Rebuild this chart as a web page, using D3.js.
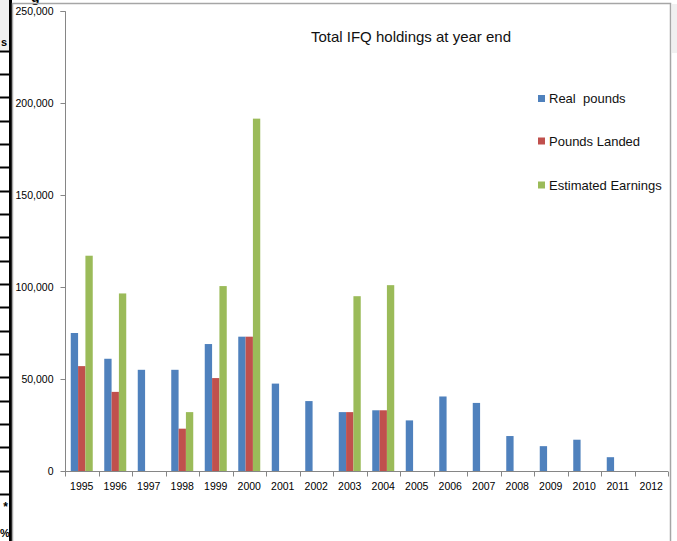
<!DOCTYPE html>
<html>
<head>
<meta charset="utf-8">
<script src="https://cdn.jsdelivr.net/npm/d3@7"></script>
<style>
html,body{margin:0;padding:0;background:#fff;}
svg{display:block;}
</style>
</head>
<body>
<svg id="chart" width="677" height="541"></svg>
<script>
const years = ["1995","1996","1997","1998","1999","2000","2001","2002","2003","2004","2005","2006","2007","2008","2009","2010","2011","2012"];
const seriesNames = ["Real  pounds","Pounds Landed","Estimated Earnings"];
const seriesColors = ["#4F81BD","#C0504D","#9BBB59"];
const realPounds = [75000,61000,55000,55000,69000,73000,47500,38000,32000,33000,27500,40500,37000,19000,13500,17000,7500,null];
const poundsLanded = [57000,43000,null,23000,50500,73000,null,null,32000,33000,null,null,null,null,null,null,null,null];
const estimatedEarnings = [117000,96500,null,32000,100500,191500,null,null,95000,101000,null,null,null,null,null,null,null,null];
const yTicks = [0,50000,100000,150000,200000,250000];
const chartTitle = "Total IFQ holdings at year end";

const allSeries = [realPounds, poundsLanded, estimatedEarnings];
const svg = d3.select("#chart");

// --- spreadsheet artifacts around the chart ---
svg.append("rect").attr("x",0).attr("y",0).attr("width",10).attr("height",50).attr("fill","#f0f0f0");
svg.append("rect").attr("x",672).attr("y",4).attr("width",5).attr("height",49).attr("fill","#f0f0f0");
d3.range(0,20).forEach(k=>{
  const yy = Math.round(50.7 + k*23.33)+0.5;
  svg.append("line").attr("x1",0).attr("x2",10).attr("y1",yy).attr("y2",yy).attr("stroke","#000").attr("stroke-width",2);
});
svg.append("line").attr("x1",10.5).attr("x2",10.5).attr("y1",0).attr("y2",541).attr("stroke","#000").attr("stroke-width",3);
svg.append("text").attr("x",7).attr("y",46).attr("text-anchor","end").attr("font-family","Liberation Sans, Arial").attr("font-weight","bold").attr("font-size",11).text("s");
svg.append("text").attr("x",8).attr("y",511).attr("text-anchor","end").attr("font-family","Liberation Sans, Arial").attr("font-weight","bold").attr("font-size",12).text("*");
svg.append("text").attr("x",0).attr("y",537).attr("font-family","Liberation Sans, Arial").attr("font-weight","bold").attr("font-size",11).text("%");
svg.append("text").attr("x",31).attr("y",2).attr("font-family","Liberation Sans, Arial").attr("font-weight","bold").attr("font-size",14).text("g");

// chart frame
svg.append("path").attr("d","M12.5,541 L12.5,3.5 L670.5,3.5 L670.5,541").attr("fill","none").attr("stroke","#a6a6a6").attr("stroke-width",1.5);

// --- plot ---
const plotLeft = 65, plotRight = 668, plotTop = 11, plotBottom = 471;
const x0 = d3.scaleBand().domain(years).range([plotLeft,plotRight]).paddingInner(0).paddingOuter(0);
const x1 = d3.scaleBand().domain(d3.range(3)).range([0,x0.bandwidth()]).paddingInner(0).paddingOuter(0.785);
const y = d3.scaleLinear().domain([0,250000]).range([plotBottom,plotTop]);

// bars
allSeries.forEach((vals,si)=>{
  svg.append("g").selectAll("rect")
    .data(years.map((yr,i)=>({yr,v:vals[i]})).filter(d=>d.v!=null))
    .join("rect")
    .attr("x",d=>x0(d.yr)+x1(si))
    .attr("y",d=>y(d.v))
    .attr("width",x1.bandwidth())
    .attr("height",d=>y(0)-y(d.v))
    .attr("fill",seriesColors[si]);
});

// y axis
const yAxis = d3.axisLeft(y).tickValues(yTicks).tickSize(5).tickPadding(7)
  .tickFormat(d=>d===0?"0":d3.format(",")(d));
const gy = svg.append("g").attr("transform",`translate(${plotLeft+0.5},0)`).call(yAxis);
gy.select(".domain").attr("stroke","#868686").attr("d",`M-5,${plotTop+0.5}H0V${plotBottom+0.5}`);
gy.selectAll(".tick line").attr("stroke","#868686");
gy.selectAll(".tick text").attr("font-family","Liberation Sans, Arial").attr("font-size",10.5).attr("fill","#000");
gy.selectAll(".tick").attr("transform",d=>`translate(0,${Math.round(y(d))+0.5})`);

// x axis
const gx = svg.append("g").attr("transform",`translate(0,${plotBottom+0.5})`);
gx.append("line").attr("x1",plotLeft).attr("x2",plotRight).attr("y1",0).attr("y2",0).attr("stroke","#868686");
const boundaries = years.map(yr=>x0(yr)).concat([plotRight]);
gx.selectAll("line.tk").data(boundaries).join("line").attr("class","tk")
  .attr("x1",d=>Math.round(d)+0.5).attr("x2",d=>Math.round(d)+0.5).attr("y1",0).attr("y2",5).attr("stroke","#868686");
const xAxis = d3.axisBottom(x0).tickSize(0).tickPadding(11);
const gxl = svg.append("g").attr("transform",`translate(0,${plotBottom+0.5})`).call(xAxis);
gxl.select(".domain").remove();
gxl.selectAll(".tick text").attr("font-family","Liberation Sans, Arial").attr("font-size",10.5).attr("fill","#000");

// title
svg.append("text").attr("x",411).attr("y",42).attr("text-anchor","middle")
  .attr("font-family","Liberation Sans, Arial").attr("font-size",15).attr("fill","#111").text(chartTitle);

// legend
const legendY = [98.5,141,185];
const lg = svg.append("g");
seriesNames.forEach((n,i)=>{
  lg.append("rect").attr("x",538).attr("y",legendY[i]-3.5).attr("width",7).attr("height",7).attr("fill",seriesColors[i]);
  lg.append("text").attr("x",549).attr("y",legendY[i]).attr("dy","0.35em")
    .attr("font-family","Liberation Sans, Arial").attr("font-size",13).attr("fill","#111")
    .attr("xml:space","preserve").style("white-space","pre").text(n);
});
</script>
</body>
</html>
